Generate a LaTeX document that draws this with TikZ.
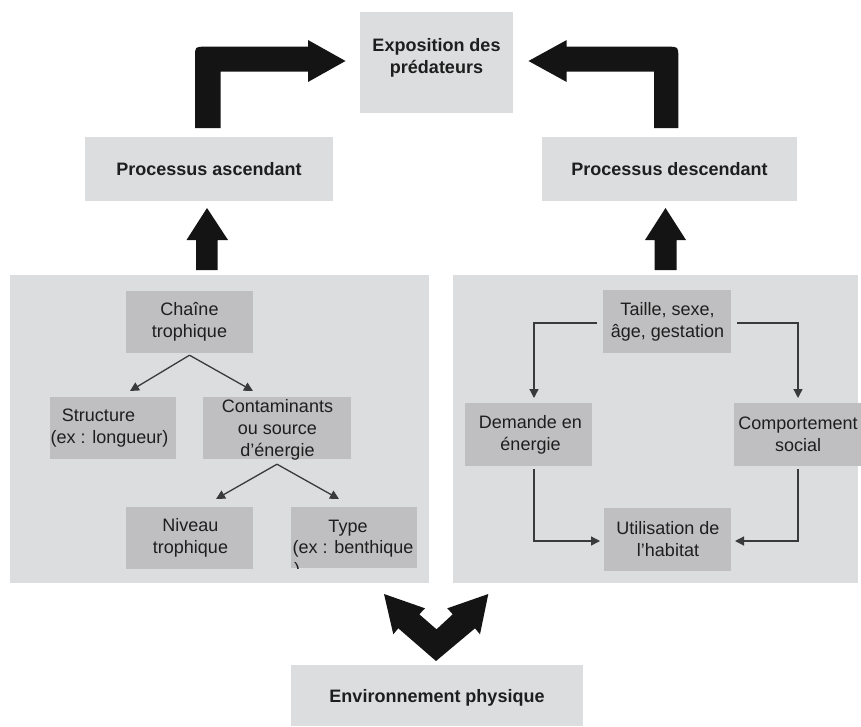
\documentclass[tikz,border=0pt]{standalone}
\usepackage{fontspec}
\setmainfont{Liberation Sans}
\usetikzlibrary{arrows.meta}
\definecolor{panelgray}{HTML}{DCDDDF}
\definecolor{boxgray}{HTML}{BFBFC1}
\definecolor{arrowblack}{HTML}{141414}
\definecolor{linegray}{HTML}{3A3A3A}
\definecolor{txtcol}{HTML}{1E1E1E}
\begin{document}
\begin{tikzpicture}[x=1pt,y=-1pt,
  lightbox/.style={fill=panelgray, draw=none, inner sep=0pt, rectangle},
  darkbox/.style={fill=boxgray, draw=none, inner sep=0pt, rectangle},
  boldtxt/.style={font=\fontsize{18}{22}\selectfont\bfseries, text=txtcol, align=center, inner sep=0pt},
  normtxt/.style={font=\fontsize{18}{22}\selectfont, text=txtcol, align=center, inner sep=0pt},
  conn/.style={draw=linegray, line width=1.3pt, -{Triangle[length=9pt,width=9pt]}},
  bigarrow/.style={fill=arrowblack, draw=none}]
\useasboundingbox (0,0) rectangle (861,726);
\fill[white] (0,0) rectangle (861,726);

% top level boxes
\node[lightbox, minimum width=153pt, minimum height=101pt] (expo) at (436.5,62.5) {};
\node[boldtxt] (expo-t) at (436.5,58) {Exposition des\\prédateurs};
\node[lightbox, minimum width=248pt, minimum height=64pt] (asc) at (209,169) {};
\node[boldtxt] (asc-t) at (asc) {Processus ascendant};
\node[lightbox, minimum width=255pt, minimum height=64pt] (desc) at (669.5,169) {};
\node[boldtxt] (desc-t) at (desc) {Processus descendant};
\node[lightbox, minimum width=292pt, minimum height=61pt] (env) at (437,695.5) {};
\node[boldtxt] (env-t) at (437,698) {Environnement physique};

% panels
\node[lightbox, minimum width=419pt, minimum height=308pt] (panL) at (219.5,429) {};
\node[lightbox, minimum width=405pt, minimum height=308pt] (panR) at (655.5,429) {};

% left panel boxes
\node[darkbox, minimum width=127pt, minimum height=62pt] (chaine) at (189.5,322) {};
\node[normtxt] (chaine-t) at (chaine) {Chaîne\\trophique};
\node[darkbox, minimum width=126pt, minimum height=62pt] (struct) at (113,428) {};
\node[normtxt] (struct-t) at (109.5,428) {Structure\rule{22pt}{0pt}\\(ex : longueur)};
\node[darkbox, minimum width=148pt, minimum height=62pt] (contam) at (277,428) {};
\node[normtxt] (contam-t) at (277.5,430) {Contaminants\\ou source\\d'énergie};
\node[darkbox, minimum width=127pt, minimum height=62pt] (niveau) at (189.5,538) {};
\node[normtxt] (niveau-t) at (190.5,538) {Niveau\\trophique};
\node[darkbox, minimum width=126pt, minimum height=61pt] (type) at (354,537.5) {};
\begin{scope}
  \clip (type.south west) rectangle (type.north east);
  \node[normtxt, anchor=base] (type-a) at (348,532) {Type};
  \node[normtxt, anchor=base west] (type-b) at (292.5,553) {(ex : benthique};
  \node[normtxt, anchor=base west] (type-c) at (294,575) {)};
\end{scope}

% right panel boxes
\node[darkbox, minimum width=128pt, minimum height=63pt] (taille) at (667,321.5) {};
\node[normtxt] (taille-t) at (667.5,321.5) {Taille, sexe,\\âge, gestation};
\node[darkbox, minimum width=127pt, minimum height=63pt] (demande) at (528.5,434.5) {};
\node[normtxt] (demande-t) at (530.5,434.5) {Demande en\\énergie};
\node[darkbox, minimum width=127pt, minimum height=63pt] (comport) at (797.5,434.5) {};
\node[normtxt] (comport-t) at (798,434.5) {Comportement\\social};
\node[darkbox, minimum width=127pt, minimum height=63pt] (util) at (667.5,539.5) {};
\node[normtxt] (util-t) at (668,539.5) {Utilisation de\\l'habitat};

% left panel connectors
\coordinate (c1) at (130,391);
\coordinate (c2) at (253,391);
\coordinate (c3) at (216,499);
\coordinate (c4) at (339,499);
\draw[conn] ([yshift=-2pt]chaine.south) -- (c1);
\draw[conn] ([yshift=-2pt]chaine.south) -- (c2);
\draw[conn] ([yshift=-5pt]contam.south) -- (c3);
\draw[conn] ([yshift=-5pt]contam.south) -- (c4);

% right panel connectors
\coordinate (d1) at (534,398);
\coordinate (d2) at (798,398);
\coordinate (d3) at (600,541);
\coordinate (d4) at (735,541);
\draw[conn] (597,323) -| (d1);
\draw[conn] (737,323) -| (d2);
\draw[conn] (534,469) |- (d3);
\draw[conn] (798,469) |- (d4);

% up arrows
\fill[bigarrow] (196,270) -- (196,240) -- (186.5,240) -- (207,208) -- (228,240) -- (217.5,240) -- (217.5,270) -- cycle;
\fill[bigarrow] (654.5,270) -- (654.5,240) -- (645,240) -- (665.5,208) -- (686,240) -- (676.5,240) -- (676.5,270) -- cycle;

% bent arrows
\fill[bigarrow] (195,128) -- (195,57) .. controls (195,46.7) .. (205,46.7) -- (308,46.7) -- (308,40) -- (345.5,61) -- (308,82) -- (308,71.7) -- (220.7,71.7) -- (220.7,128) -- cycle;
\fill[bigarrow] (654,128) -- (654,71.7) -- (566.7,71.7) -- (566.7,82) -- (528.5,61) -- (566.7,40) -- (566.7,46.7) -- (668,46.7) .. controls (678.3,46.7) .. (678.3,57) -- (678.3,128) -- cycle;

% double V arrow
\fill[bigarrow] (436,661) -- (398.3,628.3) -- (393.3,634.3) -- (384,594) -- (425,608.3) -- (419.3,614.3) -- (436.5,629.3) -- (452.7,614.3) -- (447.3,608.3) -- (488.3,594) -- (480,634.3) -- (475,628.3) -- cycle;
\end{tikzpicture}
\end{document}
